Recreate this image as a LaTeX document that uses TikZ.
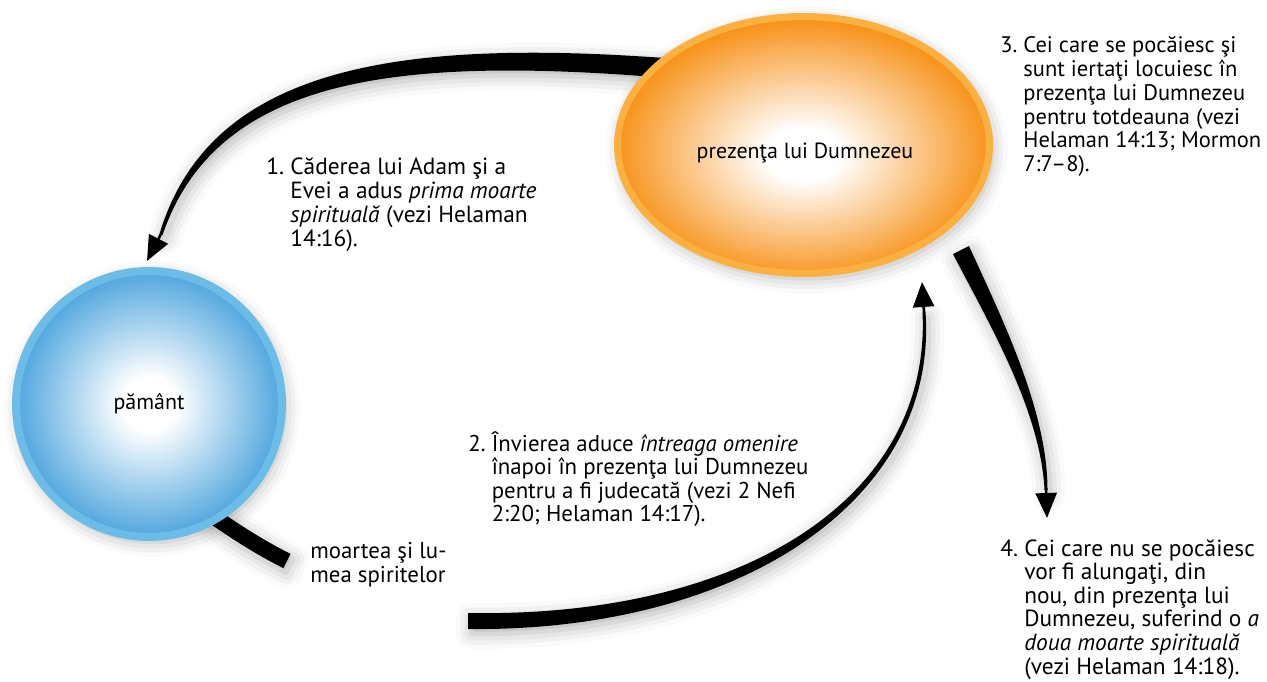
\documentclass[tikz,border=0pt]{standalone}
\usepackage{fontspec}
\setmainfont{PT Sans}
\usetikzlibrary{arrows.meta, shapes.geometric, shadows.blur, backgrounds}

\definecolor{earthring}{RGB}{108,188,232}
\definecolor{earthblue}{RGB}{80,166,222}
\definecolor{godring}{RGB}{251,176,64}
\definecolor{godorange}{RGB}{247,148,29}

\pgfdeclareradialshading{earthglow}{\pgfpoint{0bp}{0bp}}{color(0bp)=(white); color(5bp)=(white); color(25bp)=(earthblue); color(50bp)=(earthblue)}
\pgfdeclareradialshading{godglow}{\pgfpoint{0bp}{-2bp}}{color(0bp)=(white); color(5bp)=(white); color(25bp)=(godorange); color(50bp)=(godorange)}

\begin{document}
\begin{tikzpicture}[
  x=0.02cm, y=-0.02cm,
  every node/.style={font=\fontsize{12.5}{13.4}\selectfont},
  soft/.style={blur shadow={shadow xshift=0.06cm, shadow yshift=-0.1cm,
               shadow blur radius=0.3cm, shadow opacity=30}},
  planet/.style={circle, draw=earthring, line width=0.16cm, shading=earthglow,
                 minimum size=5.32cm, soft},
  heaven/.style={ellipse, draw=godring, line width=0.14cm, shading=godglow,
                 minimum width=7.44cm, minimum height=5.14cm, soft},
  note/.style={anchor=base west, inner sep=0pt, align=left,
               font=\fontsize{13.3}{13.4}\selectfont},
  band/.style={fill=black, soft},
  head/.style={line width=1.5pt, -{Triangle[length=0.5cm, width=0.42cm]}},
]
  %% -- frame --
  \useasboundingbox (0,0) rectangle (1267,682);

  %% -- the two places --
  \node[planet] (earth) at (149,404) {pământ};
  \node[heaven] (god) at (803.5,145) {};
  \node (godlbl) at (805,153) {prezenţa lui Dumnezeu};

  %% -- notes --
  \node[note] (fall) at (266,175) {\begin{tabular}[t]{@{}l@{\ }l@{}}
    1.&Căderea lui Adam şi a\\
      &Evei a adus \textit{prima moarte}\\
      &\textit{spirituală} (vezi Helaman\\
      &14:16).\end{tabular}};
  \node[note, font=\fontsize{13}{13.4}\selectfont] (rise) at (468,451)
    {\begin{tabular}[t]{@{}l@{\ }l@{}}
    2.&Învierea aduce \textit{întreaga omenire}\\
      &înapoi în prezenţa lui Dumnezeu\\
      &pentru a fi judecată (vezi 2 Nefi\\
      &2:20; Helaman 14:17).\end{tabular}};
  \node[note, font=\fontsize{12.8}{13.5}\selectfont] (saved) at (1000,53)
    {\begin{tabular}[t]{@{}l@{\ }l@{}}
    3.&Cei care se pocăiesc şi\\
      &sunt iertaţi locuiesc în\\
      &prezenţa lui Dumnezeu\\
      &pentru totdeauna (vezi\\
      &Helaman 14:13; Mormon\\
      &7:7--8).\end{tabular}};
  \node[note] (lost) at (1000,556) {\begin{tabular}[t]{@{}l@{\ }l@{}}
    4.&Cei care nu se pocăiesc\\
      &vor fi alungaţi, din\\
      &nou, din prezenţa lui\\
      &Dumnezeu, suferind o \textit{a}\\
      &\textit{doua moarte spirituală}\\
      &(vezi Helaman 14:18).\end{tabular}};
  \node[note, font=\fontsize{13}{13.4}\selectfont] (death) at (310,582)
    {moartea şi lu-\\mea spiritelor};

  %% -- tips --
  \coordinate (fallend) at (161,234);
  \coordinate (falltip) at (147,261);
  \coordinate (riseend) at (924,312);
  \coordinate (risetip) at (922,282);
  \coordinate (lostend) at (1046,488);
  \coordinate (losttip) at (1047,518);

  %% -- tapered bands --
  \begin{scope}[on background layer]
    \fill[band] (690,60) .. controls (398,36) and (210,66) .. (159.5,234)
      -- (162.5,235) .. controls (218,74) and (402,54) .. (690,80) -- cycle;
    \fill[band] (199.7,496.5) .. controls (229.2,518.2) and (259.2,538.2) .. (290.6,553.9)
      -- (283.4,568.1) .. controls (250.8,551.8) and (220.8,531.8) .. (190.3,509.5) -- cycle;
    \fill[band] (468,613) .. controls (740,618) and (931.5,500) .. (922.5,312)
      -- (925.5,312) .. controls (938.5,500) and (740,632) .. (468,629) -- cycle;
    \fill[band] (969,246) .. controls (1001.4,317.2) and (1047.5,410) .. (1047.5,490)
      -- (1044.5,490) .. controls (1040.5,410) and (988.6,322.8) .. (953,254) -- cycle;
  \end{scope}

  %% -- arrow heads --
  \draw[head] (fallend) -- (falltip);
  \draw[head] (riseend) -- (risetip);
  \draw[head] (lostend) -- (losttip);
\end{tikzpicture}
\end{document}
